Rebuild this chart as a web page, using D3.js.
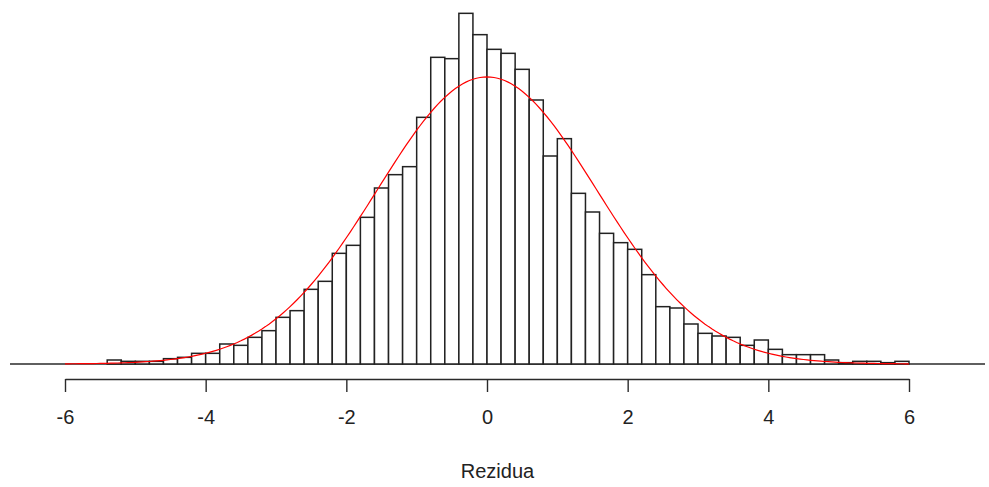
<!DOCTYPE html>
<html>
<head>
<meta charset="utf-8">
<script src="https://cdn.jsdelivr.net/npm/d3@7"></script>
<style>
  html, body { margin: 0; padding: 0; background: #fff; }
  svg { display: block; }
  text { font-family: "Liberation Sans", Arial, sans-serif; fill: #222; }
</style>
</head>
<body>
<svg id="chart" width="989" height="487"></svg>
<script>
// Histogram of residuals: left edge of each 0.2-wide bin
const binStarts = [
  -5.4, -5.2, -5.0, -4.8, -4.6, -4.4, -4.2, -4.0, -3.8, -3.6,
  -3.4, -3.2, -3.0, -2.8, -2.6, -2.4, -2.2, -2.0, -1.8, -1.6,
  -1.4, -1.2, -1.0, -0.8, -0.6, -0.4, -0.2, 0.0, 0.2, 0.4,
  0.6, 0.8, 1.0, 1.2, 1.4, 1.6, 1.8, 2.0, 2.2, 2.4,
  2.6, 2.8, 3.0, 3.2, 3.4, 3.6, 3.8, 4.0, 4.2, 4.4,
  4.6, 4.8, 5.0, 5.2, 5.4, 5.6, 5.8
];
const binWidth = 0.2;

// Counts per bin
const counts = [
  3, 2, 2, 2, 4, 5, 8, 8, 15, 14,
  20, 25, 35, 40, 56, 62, 83, 89, 110, 132,
  142, 148, 185, 230, 229, 263, 247, 236, 233, 221,
  198, 156, 169, 128, 114, 98, 91, 86, 67, 43,
  42, 30, 23, 21, 20, 14, 18, 11, 7, 7,
  7, 3, 1, 2, 2, 1, 2
];

// Fitted normal overlay
const fitMean = 0.0;
const fitSd = 1.56;
const curveFrom = -6, curveTo = 6;

// Axis ticks
const xTicks = [-6, -4, -2, 0, 2, 4, 6];
const xTitle = "Rezidua";

const svg = d3.select("#chart");

// plot region spans 10..985 px horizontally
const plotLeft = 10, plotRight = 985;

const x = d3.scaleLinear().domain([-6, 6]).range([65, 909]);
const y = d3.scaleLinear().domain([0, 264]).range([364, 12]);

// zero line across the plot region
svg.append("line")
  .attr("x1", plotLeft).attr("x2", plotRight)
  .attr("y1", y(0)).attr("y2", y(0))
  .attr("stroke", "#2a2a2a").attr("stroke-width", 1.4);

// bars
svg.append("g").selectAll("rect")
  .data(binStarts.map((b, i) => ({ x0: b, x1: b + binWidth, n: counts[i] })))
  .join("rect")
  .attr("x", d => x(d.x0))
  .attr("width", d => x(d.x1) - x(d.x0))
  .attr("y", d => y(d.n))
  .attr("height", d => y(0) - y(d.n))
  .attr("fill", "#fff")
  .attr("stroke", "#222")
  .attr("stroke-width", 1.5);

// normal density scaled to counts
const total = d3.sum(counts);
const dens = v => Math.exp(-0.5 * ((v - fitMean) / fitSd) ** 2) / (fitSd * Math.sqrt(2 * Math.PI));
const curvePts = d3.range(curveFrom, curveTo + 1e-9, 0.05).map(v => [v, total * binWidth * dens(v)]);
svg.append("path")
  .datum(curvePts)
  .attr("fill", "none")
  .attr("stroke", "#ff0000")
  .attr("stroke-width", 1.2)
  .attr("d", d3.line().x(d => x(d[0])).y(d => y(d[1])));

// x axis
const axisG = svg.append("g")
  .attr("transform", "translate(0,379)")
  .call(d3.axisBottom(x).tickValues(xTicks).tickSize(13).tickSizeOuter(0).tickPadding(18)
    .tickFormat(d => d < 0 ? "-" + Math.abs(d) : String(d)));
axisG.select(".domain").attr("stroke", "#2a2a2a").attr("stroke-width", 1.4);
axisG.selectAll(".tick line").attr("stroke", "#2a2a2a").attr("stroke-width", 1.4);
axisG.selectAll(".tick text")
  .style("font-family", "'Liberation Sans', Arial, sans-serif")
  .style("font-size", "20px").attr("fill", "#222");

svg.append("text")
  .attr("x", (plotLeft + plotRight) / 2).attr("y", 478)
  .attr("text-anchor", "middle")
  .style("font-size", "20px")
  .text(xTitle);
</script>
</body>
</html>
